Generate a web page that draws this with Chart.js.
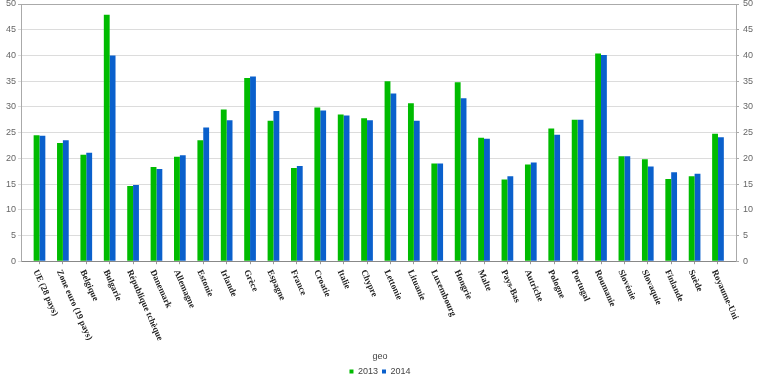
<!DOCTYPE html>
<html>
<head>
<meta charset="utf-8">
<script src="https://cdn.jsdelivr.net/npm/chart.js@4"></script>
<style>
  html, body { margin: 0; padding: 0; background: #fff; }
  #wrap { width: 760px; height: 378px; }
</style>
</head>
<body>
<div id="wrap"><canvas id="geoChart" width="760" height="378"></canvas></div>
<script>
const countries = [
    'UE (28 pays)', 'Zone euro (19 pays)', 'Belgique', 'Bulgarie', 'République tchèque',
    'Danemark', 'Allemagne', 'Estonie', 'Irlande', 'Grèce', 'Espagne', 'France', 'Croatie',
    'Italie', 'Chypre', 'Lettonie', 'Lituanie', 'Luxembourg', 'Hongrie', 'Malte', 'Pays-Bas',
    'Autriche', 'Pologne', 'Portugal', 'Roumanie', 'Slovénie', 'Slovaquie', 'Finlande',
    'Suède', 'Royaume-Uni'
];
const values2013 = [
    24.5, 23.0, 20.7, 47.9, 14.6, 18.3, 20.3, 23.5, 29.5, 35.6, 27.3, 18.1, 29.9, 28.5, 27.8,
    35.0, 30.7, 19.0, 34.8, 24.0, 15.9, 18.8, 25.8, 27.5, 40.4, 20.4, 19.8, 16.0, 16.5, 24.8
];
const values2014 = [
    24.4, 23.5, 21.1, 40.0, 14.8, 17.9, 20.6, 26.0, 27.4, 35.9, 29.2, 18.5, 29.3, 28.3, 27.4,
    32.6, 27.3, 19.0, 31.7, 23.8, 16.5, 19.2, 24.6, 27.5, 40.1, 20.4, 18.4, 17.3, 17.0, 24.1
];
const yTicks = [0, 5, 10, 15, 20, 25, 30, 35, 40, 45, 50];

// country names are drawn rotated clockwise, starting at the tick
const slantLabels = {
    id: 'slantLabels',
    afterDraw(chart) {
        const ctx = chart.ctx;
        const xs = chart.scales.x;
        ctx.save();
        ctx.font = 'bold 9px "Liberation Serif"';
        ctx.fillStyle = '#222';
        ctx.textAlign = 'left';
        ctx.textBaseline = 'middle';
        countries.forEach((name, i) => {
            const px = xs.getPixelForValue(i);
            ctx.save();
            ctx.translate(px - 4, xs.top + 9);
            ctx.rotate(66 * Math.PI / 180);
            ctx.fillText(name, 0, 0);
            ctx.restore();
        });
        ctx.restore();
    }
};

const yAxisCommon = {
    min: 0,
    max: 50,
    afterBuildTicks: (scale) => { scale.ticks = yTicks.map(v => ({ value: v })); },
    ticks: { color: '#666', font: { family: 'Liberation Sans', size: 9 }, padding: 2 },
    border: { color: '#aaa' }
};

// fixed axis width, and keep the top label from pushing the plot down
const fitY = (width) => (scale) => {
    scale.width = width;
    scale.paddingTop = 4;
    scale.paddingBottom = 4;
};

new Chart(document.getElementById('geoChart'), {
    type: 'bar',
    data: {
        datasets: [{
            label: '2013',
            data: values2013.map((v, i) => ({ x: i, y: v })),
            backgroundColor: '#00bb00',
            categoryPercentage: 0.5,
            barPercentage: 1
        }, {
            label: '2014',
            data: values2014.map((v, i) => ({ x: i, y: v })),
            backgroundColor: '#0a60cc',
            categoryPercentage: 0.5,
            barPercentage: 1
        }]
    },
    options: {
        responsive: false,
        animation: false,
        layout: { padding: { top: 0, left: 0, right: 0, bottom: -8 } },
        plugins: {
            tooltip: { enabled: false },
            legend: {
                position: 'bottom',
                title: {
                    display: true,
                    text: 'geo',
                    color: '#444',
                    font: { family: 'Liberation Sans', size: 9 },
                    padding: { top: 0, bottom: 0 }
                },
                labels: {
                    boxWidth: 4,
                    boxHeight: 4,
                    padding: 4,
                    color: '#444',
                    font: { family: 'Liberation Sans', size: 9 }
                }
            }
        },
        scales: {
            x: {
                type: 'linear',
                min: -0.79,
                max: 29.77,
                offset: false,
                afterFit: (scale) => { scale.height = 91; },
                ticks: { display: false, stepSize: 1, includeBounds: false },
                grid: { drawOnChartArea: false, drawTicks: true, tickLength: 3, color: '#999', offset: false },
                border: { color: '#888' }
            },
            y: {
                ...yAxisCommon,
                position: 'left',
                afterFit: fitY(21),
                grid: {
                    tickLength: 3,
                    color: (c) => (c.tick && c.tick.value === 50 ? '#aaa' : '#dcdcdc')
                }
            },
            y2: {
                ...yAxisCommon,
                position: 'right',
                afterFit: fitY(24),
                ticks: { ...yAxisCommon.ticks, padding: 4 },
                grid: { drawOnChartArea: false, tickLength: 3, color: '#aaa' }
            }
        }
    },
    plugins: [slantLabels]
});
</script>
</body>
</html>
